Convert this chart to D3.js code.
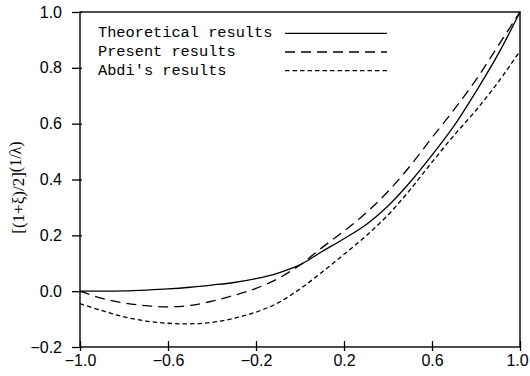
<!DOCTYPE html>
<html>
<head>
<meta charset="utf-8">
<script src="https://cdn.jsdelivr.net/npm/d3@7"></script>
<style>
  body { margin: 0; background: #fff; }
  svg { display: block; }
</style>
</head>
<body>
<div id="chart"></div>
<script>
// values
const xValues = [-1.0, -0.9, -0.8, -0.7, -0.6, -0.5, -0.4, -0.3, -0.2, -0.1, 0.0,
                 0.1, 0.2, 0.3, 0.4, 0.5, 0.6, 0.7, 0.8, 0.9, 1.0];
const theoretical = [0.0, 0.0, 0.001, 0.004, 0.008, 0.014, 0.022, 0.031, 0.045, 0.065, 0.094,
                     0.142, 0.188, 0.238, 0.305, 0.390, 0.487, 0.592, 0.715, 0.848, 1.0];
const present = [0.0, -0.026, -0.042, -0.052, -0.056, -0.051, -0.036, -0.015, 0.010, 0.045, 0.094,
                 0.156, 0.215, 0.280, 0.357, 0.448, 0.550, 0.650, 0.757, 0.878, 1.0];
const abdi = [-0.045, -0.070, -0.092, -0.107, -0.115, -0.117, -0.112, -0.097, -0.075, -0.042, 0.008,
              0.068, 0.132, 0.198, 0.273, 0.363, 0.462, 0.558, 0.648, 0.748, 0.860];

const xTicks = [-1.0, -0.6, -0.2, 0.2, 0.6, 1.0];
const yTicks = [-0.2, 0.0, 0.2, 0.4, 0.6, 0.8, 1.0];

const seriesNames = ['Theoretical results', 'Present results', "Abdi's results"];
const seriesValues = [theoretical, present, abdi];
const seriesDash = [null, '10,6', '4.5,3'];

const width = 530, height = 376;
const margin = { top: 12, right: 10, bottom: 29, left: 80 };

const svg = d3.select('#chart')
  .append('svg')
  .attr('width', width)
  .attr('height', height);

const x = d3.scaleLinear().domain([-1, 1]).range([margin.left, width - margin.right]);
const y = d3.scaleLinear().domain([-0.2, 1.0]).range([height - margin.bottom, margin.top]);

// frame
svg.append('rect')
  .attr('x', x(-1))
  .attr('y', y(1))
  .attr('width', x(1) - x(-1))
  .attr('height', y(-0.2) - y(1))
  .attr('fill', 'none')
  .attr('stroke', '#000')
  .attr('stroke-width', 1.4);

// axes
const fmt = d => d3.format('.1f')(d).replace('-', '\u2212');

const yAxis = svg.append('g')
  .attr('transform', `translate(${x(-1)},0)`)
  .call(d3.axisLeft(y).tickValues(yTicks).tickSize(8).tickPadding(10).tickFormat(fmt));
yAxis.select('.domain').remove();
yAxis.selectAll('.tick line').attr('x2', -8).attr('x1', 2).attr('stroke-width', 1.3);
yAxis.selectAll('.tick text')
  .attr('font-family', '"Liberation Sans", Arial, sans-serif')
  .attr('font-size', 16)
  .attr('fill', '#000');

const xAxis = svg.append('g')
  .attr('transform', `translate(0,${y(-0.2)})`)
  .call(d3.axisBottom(x).tickValues(xTicks).tickSize(4).tickPadding(4).tickFormat(fmt));
xAxis.select('.domain').remove();
xAxis.selectAll('.tick line').attr('y1', -6).attr('y2', 4).attr('stroke-width', 1.3);
xAxis.selectAll('.tick text')
  .attr('font-family', '"Liberation Sans", Arial, sans-serif')
  .attr('font-size', 16)
  .attr('fill', '#000')
  .attr('dx', d => d === 1 ? -3 : 0);

// y axis title
const title = svg.append('text')
  .attr('transform', `translate(24,${(y(1) + y(-0.2)) / 2 + 8}) rotate(-90)`)
  .attr('text-anchor', 'middle')
  .attr('font-family', '"Liberation Serif", "DejaVu Serif", serif')
  .attr('font-size', 17)
  .attr('fill', '#000');
title.append('tspan').text('[(1+\u03BE)/2]');
title.append('tspan').attr('dy', -3).attr('font-size', 16).text('(1/\u03BB)');

// curves
const line = d3.line()
  .x((d, i) => x(xValues[i]))
  .y(d => y(d))
  .curve(d3.curveCatmullRom.alpha(0.5));

seriesValues.forEach((vals, i) => {
  svg.append('path')
    .datum(vals)
    .attr('d', line)
    .attr('fill', 'none')
    .attr('stroke', '#000')
    .attr('stroke-width', 1.3)
    .attr('stroke-dasharray', seriesDash[i]);
});

// legend
const legend = svg.append('g');
seriesNames.forEach((name, i) => {
  const ly = 33.3 + i * 18.7;
  legend.append('text')
    .attr('x', 98)
    .attr('y', ly + 3.8)
    .attr('font-family', '"Liberation Mono", "DejaVu Sans Mono", monospace')
    .attr('font-size', 15.3)
    .attr('fill', '#000')
    .text(name);
  legend.append('line')
    .attr('x1', 285).attr('x2', 387)
    .attr('y1', ly).attr('y2', ly)
    .attr('stroke', '#000')
    .attr('stroke-width', 1.3)
    .attr('stroke-dasharray', seriesDash[i]);
});
</script>
</body>
</html>
